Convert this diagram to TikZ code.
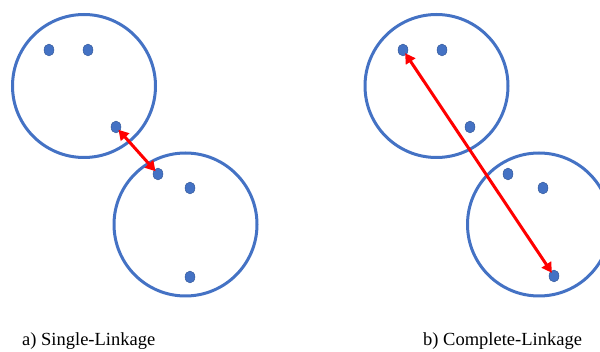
\documentclass[tikz,border=0pt]{standalone}
\usepackage{fontspec}
\setmainfont{Liberation Serif}
\usetikzlibrary{arrows.meta,shapes.geometric}
\definecolor{cblue}{HTML}{4472C4}
\definecolor{cdark}{HTML}{2F528F}
\definecolor{cred}{HTML}{FF0000}
\tikzset{
  cluster/.style={circle, draw=cblue, line width=3pt, minimum size=143pt, inner sep=0pt},
  pt/.style={ellipse, fill=cblue, draw=cdark, line width=0.4pt, minimum width=10pt, minimum height=12pt, inner sep=0pt},
  link/.style={draw=cred, line width=3pt, {Triangle[length=10pt,width=11pt]}-{Triangle[length=10pt,width=11pt]}, shorten <=-2pt, shorten >=-2pt},
  captext/.style={font=\fontsize{18.5}{20}\selectfont, inner sep=0pt}
}
\begin{document}
\begin{tikzpicture}[x=1pt,y=-1pt]
\useasboundingbox (0,0) rectangle (600,352);
\begin{scope}
\clip (0,0) rectangle (600,352);
% left panel
\node[cluster] (A1) at (84,86) {};
\node[cluster] (A2) at (185.5,224.5) {};
\node[pt] (a1) at (49,50) {};
\node[pt] (a2) at (88,50) {};
\node[pt] (a3) at (116,127) {};
\node[pt] (a4) at (158,174) {};
\node[pt] (a5) at (190,188) {};
\node[pt] (a6) at (190,277) {};
\draw[link] (a3) -- (a4);
\node[captext, anchor=base west] (la) at (22,346) {a) Single-Linkage};
% right panel
\node[cluster] (B1) at (436.5,86) {};
\node[cluster] (B2) at (539,224.5) {};
\node[pt] (b1) at (403,50) {};
\node[pt] (b2) at (442,50) {};
\node[pt] (b3) at (470,127) {};
\node[pt] (b4) at (508,174) {};
\node[pt] (b5) at (543,188) {};
\node[pt] (b6) at (554,276) {};
\draw[link] (b1) -- (b6);
\node[captext, anchor=base west] (lb) at (423,346) {b) Complete-Linkage};
\end{scope}
\end{tikzpicture}
\end{document}
